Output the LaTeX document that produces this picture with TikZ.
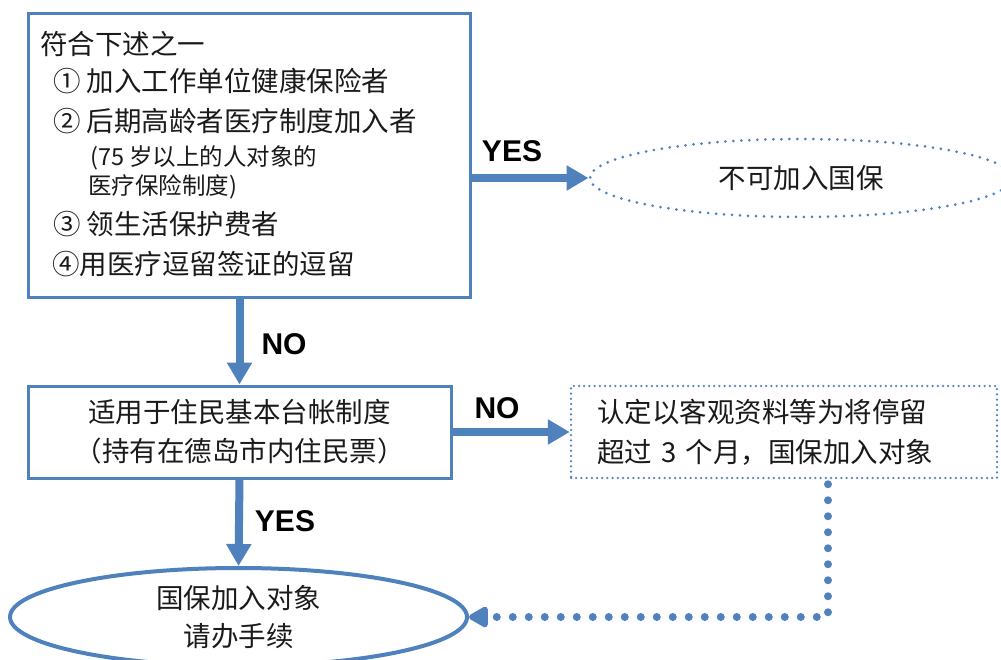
\documentclass[tikz,border=0pt]{standalone}
\usepackage{fontspec}
\newfontfamily\cjk{Noto Sans CJK SC}
\newfontfamily\lab{Liberation Sans}
\usetikzlibrary{arrows.meta,shapes.geometric}
\definecolor{bl}{HTML}{4F81BD}
\definecolor{tx}{HTML}{1A1A1A}
\tikzset{
  boxa/.style={draw=bl, line width=3pt, rectangle, inner sep=0pt},
  dotbox/.style={draw=bl, line width=2.5pt, line cap=round, dash pattern=on 0pt off 5.2pt, rectangle},
  dotell/.style={draw=bl, line width=3pt, line cap=round, dash pattern=on 0pt off 8pt, ellipse, inner sep=0pt},
  solell/.style={draw=bl, line width=4pt, ellipse, inner sep=0pt},
  big/.style={font=\cjk\fontsize{27.5}{38}\selectfont, text=tx},
  small/.style={font=\cjk\fontsize{23.5}{28}\selectfont, text=tx},
  line/.style={big, anchor=west, inner sep=0pt, text height=24.2pt, text depth=3.3pt},
  sline/.style={small, anchor=west, inner sep=0pt, text height=20.7pt, text depth=2.8pt},
  yn/.style={font=\lab\bfseries\fontsize{30}{30}\selectfont, text=black, inner sep=0pt, text height=22pt, text depth=0pt},
  fat/.style={draw=bl, line width=8pt, -{Triangle[length=22pt,width=24pt]}},
  dotconn/.style={draw=bl, line width=8pt, line cap=round, dash pattern=on 0pt off 16pt, -{Triangle[length=22pt,width=23pt,round=false]}},
}
\begin{document}
\begin{tikzpicture}[x=1pt,y=-1pt]
\useasboundingbox (0,0) rectangle (1001,660);
\clip (0,0) rectangle (1001,660);

% top box
\node[boxa, minimum width=442pt, minimum height=284pt] (top) at (249,156) {};
\node[line] (t0) at (40,44) {符合下述之一};
\node[line] (t1) at (53,81) {① 加入工作单位健康保险者};
\node[line] (t2) at (53,121) {② 后期高龄者医疗制度加入者};
\node[sline] (t3) at (90,157) {(75 岁以上的人对象的};
\node[sline] (t4) at (88,186) {医疗保险制度)};
\node[line] (t5) at (53,224) {③ 领生活保护费者};
\node[line] (t6) at (52,264) {④用医疗逗留签证的逗留};

% not eligible ellipse
\node[dotell, big, minimum width=422pt, minimum height=78pt] (nj) at (801,178) {不可加入国保};

% second box
\node[boxa, big, minimum width=423pt, minimum height=92pt, align=center] (box2) at (239.5,432)
  {适用于住民基本台帐制度\\[1pt]（持有在德岛市内住民票）};

% dotted box
\node[dotbox, big, minimum height=92pt, text width=374pt, inner xsep=26pt, inner ysep=0pt, align=left] (db) at (784,432)
  {认定以客观资料等为将停留\\[2pt]超过 3 个月，国保加入对象};

% result ellipse
\node[solell, big, minimum width=457pt, minimum height=98pt, align=center] (res) at (238.5,617)
  {国保加入对象\\请办手续};

% connectors
\draw[fat] (top.east |- nj.west) -- (nj.west);
\draw[fat] (box2.north |- top.south) -- (box2.north);
\draw[fat] (box2.east) -- (db.west);
\draw[fat] (box2.south) -- (res.north);
\draw[dotconn] ([xshift=44pt,yshift=-5pt]db.south) |- (res.east);

% labels
\node[yn] (yes1) at (512,151) {YES};
\node[yn] (no1) at (284,343) {NO};
\node[yn] (no2) at (497,407) {NO};
\node[yn] (yes2) at (285,520) {YES};
\end{tikzpicture}
\end{document}
